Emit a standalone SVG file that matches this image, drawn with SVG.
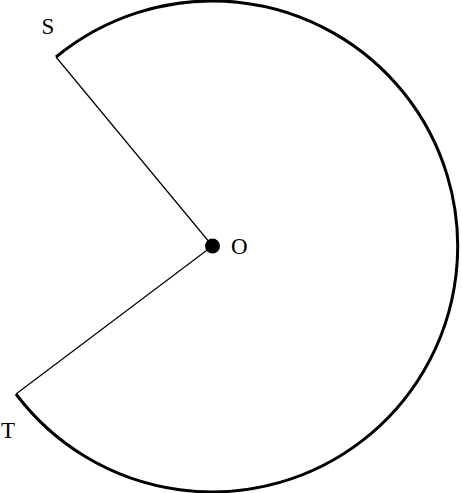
<svg xmlns="http://www.w3.org/2000/svg" width="462" height="493" viewBox="0 0 462 493">
<style>
.lbl{font-family:"Liberation Serif","DejaVu Serif",serif;font-size:23px;fill:#000}
.rad{stroke:#000;stroke-width:1.2;fill:none}
.arc{stroke:#000;stroke-width:3;fill:none}
</style>
<rect width="462" height="493" fill="#fff"/>
<g id="connectors">
<line class="rad" x1="56" y1="57" x2="212.5" y2="246"/>
<line class="rad" x1="16" y1="394" x2="212.5" y2="246"/>
<path id="arc" class="arc" d="M56 57 A245.5 245.5 0 1 1 16 394"/>
</g>
<g id="S"><text class="lbl" x="41.5" y="33.5">S</text></g>
<g id="O"><circle cx="212.5" cy="246" r="7.5" fill="#000"/><text class="lbl" x="231" y="253.5">O</text></g>
<g id="T"><text class="lbl" x="1" y="437.5">T</text></g>
</svg>
